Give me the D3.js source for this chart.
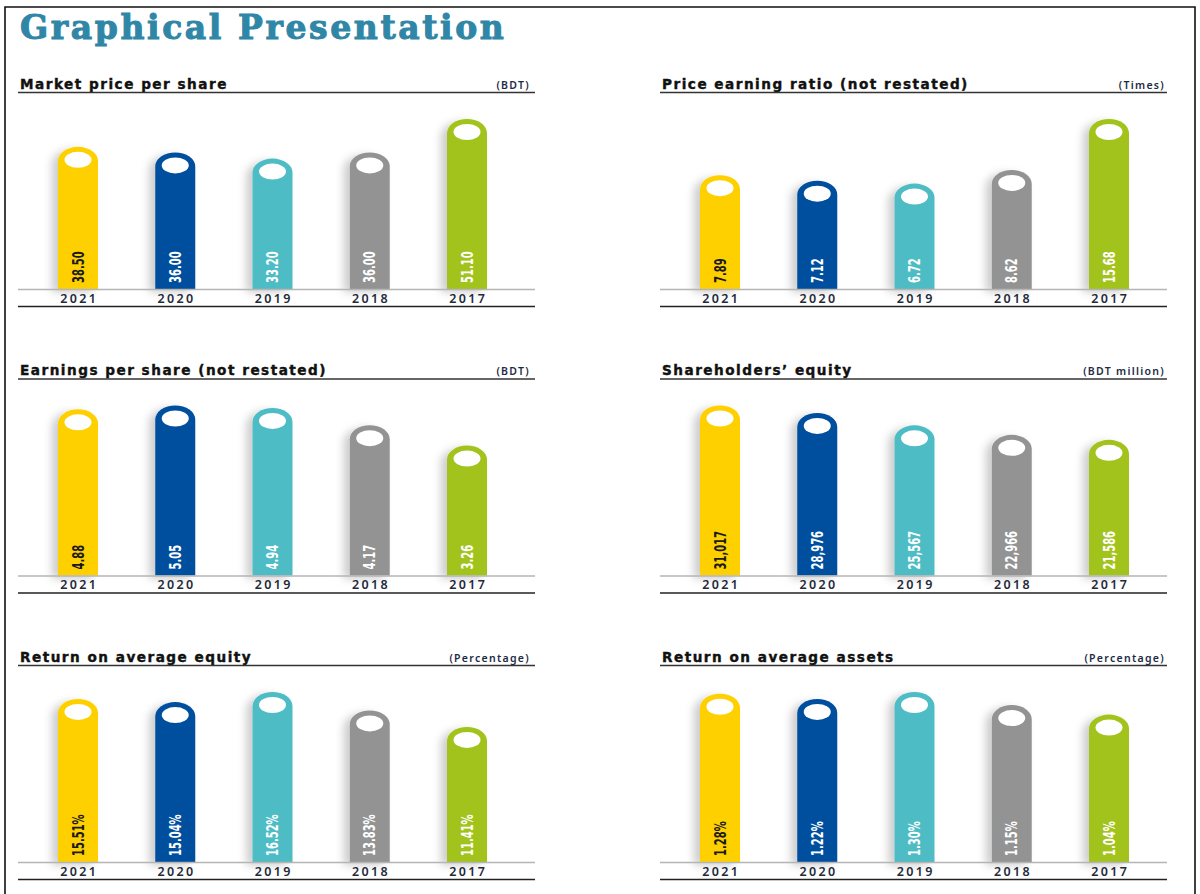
<!DOCTYPE html>
<html>
<head>
<meta charset="utf-8">
<script src="https://cdn.jsdelivr.net/npm/d3@7"></script>
<style>
  body { margin: 0; background: #fff; }
  svg { display: block; }
</style>
</head>
<body>
<svg id="chart" width="1200" height="894"></svg>
<script>
const years = ['2021', '2020', '2019', '2018', '2017']
const barColors = ['#ffd000', '#004f9e', '#4dbcc5', '#939393', '#a2c31a']
const labelColors = ['#1a1a1a', '#fff', '#fff', '#fff', '#fff']

const marketPrice = [38.50, 36.00, 33.20, 36.00, 51.10]
const peRatio = [7.89, 7.12, 6.72, 8.62, 15.68]
const eps = [4.88, 5.05, 4.94, 4.17, 3.26]
const equity = [31017, 28976, 25567, 22966, 21586]
const roae = [15.51, 15.04, 16.52, 13.83, 11.41]
const roaa = [1.28, 1.22, 1.30, 1.15, 1.04]

const titles = [
  'Market price per share', 'Price earning ratio (not restated)',
  'Earnings per share (not restated)', 'Shareholders\u2019 equity',
  'Return on average equity', 'Return on average assets'
]
const units = ['(BDT)', '(Times)', '(BDT)', '(BDT million)', '(Percentage)', '(Percentage)']

const fix2 = d3.format('.2f')
const pct = v => fix2(v) + '%'
const panels = [
  {values: marketPrice, fmt: fix2},
  {values: peRatio, fmt: fix2},
  {values: eps, fmt: fix2},
  {values: equity, fmt: d3.format(',')},
  {values: roae, fmt: pct},
  {values: roaa, fmt: pct}
].map((p, i) => ({...p, title: titles[i], unit: units[i], col: i % 2, row: Math.floor(i / 2)}))

const svg = d3.select('#chart')
const defs = svg.append('defs')
const shadow = defs.append('filter').attr('id', 'shadow')
  .attr('x', '-50%').attr('y', '-20%').attr('width', '200%').attr('height', '140%')
shadow.append('feDropShadow')
  .attr('dx', -6).attr('dy', 3).attr('stdDeviation', 4)
  .attr('flood-color', '#000').attr('flood-opacity', 0.2)

// page frame
svg.append('path')
  .attr('d', 'M5,900 L5,7 L1195,7 L1195,900')
  .attr('fill', 'none').attr('stroke', '#111').attr('stroke-width', 1.6)

svg.append('text')
  .attr('x', 20).attr('y', 39)
  .attr('font-family', 'DejaVu Serif').attr('font-weight', 'bold')
  .attr('font-size', 33).attr('fill', '#2f86a6')
  .attr('letter-spacing', 2.6)
  .attr('stroke', '#2f86a6').attr('stroke-width', 1)
  .text('Graphical Presentation')

const colX = [0, 642]
const lineEnd = [535, 525]
const unitEnd = [530, 523]
const rowY = [0, 286.5, 573]
const barW = 40

const x = d3.scalePoint().domain(years).range([78, 467])

panels.forEach(p => {
  const g = svg.append('g')
    .attr('transform', `translate(${colX[p.col]},${rowY[p.row]})`)

  const axisY = 289
  const right = lineEnd[p.col]
  const y = d3.scaleLinear()
    .domain([0, d3.max(p.values)])
    .range([axisY - 57, axisY - 170])

  g.append('text')
    .attr('x', 20).attr('y', 88.5)
    .attr('font-family', 'DejaVu Sans').attr('font-weight', 'bold')
    .attr('font-size', 13.6).attr('fill', '#111')
    .attr('stroke', '#111').attr('stroke-width', 0.4)
    .attr('letter-spacing', 1.5)
    .text(p.title)

  g.append('text')
    .attr('x', unitEnd[p.col]).attr('y', 88.5)
    .attr('text-anchor', 'end')
    .attr('font-family', 'Noto Sans').attr('font-weight', 600)
    .attr('font-size', 10.5).attr('fill', '#1d2b44')
    .attr('letter-spacing', 1.3)
    .text(p.unit)

  g.append('line')
    .attr('x1', 18).attr('x2', right).attr('y1', 92.5).attr('y2', 92.5)
    .attr('stroke', '#333').attr('stroke-width', 1.5)

  const bars = g.selectAll('g.bar')
    .data(p.values)
    .enter().append('g')
    .attr('class', 'bar')
    .attr('transform', (d, i) => `translate(${x(years[i])},0)`)

  bars.append('path')
    .attr('fill', (d, i) => barColors[i])
    .attr('filter', 'url(#shadow)')
    .attr('d', d => {
      const top = y(d)
      const r = barW / 2
      return `M${-r},${axisY} L${-r},${top + 14} A${r},14 0 0 1 ${r},${top + 14} L${r},${axisY} Z`
    })

  bars.append('ellipse')
    .attr('cx', 0).attr('cy', d => y(d) + 13)
    .attr('rx', 13.5).attr('ry', 8)
    .attr('fill', '#fff')

  bars.append('text')
    .attr('transform', `translate(5.5,${axisY - 6}) rotate(-90) scale(0.74,1)`)
    .attr('font-family', 'DejaVu Sans Condensed').attr('font-weight', 'bold')
    .attr('font-size', 15)
    .attr('fill', (d, i) => labelColors[i])
    .text(d => p.fmt(d))

  g.append('line')
    .attr('x1', 18).attr('x2', right).attr('y1', axisY + 0.5).attr('y2', axisY + 0.5)
    .attr('stroke', '#b5b5b5').attr('stroke-width', 1.5)

  g.selectAll('text.year')
    .data(years)
    .enter().append('text')
    .attr('class', 'year')
    .attr('x', d => x(d) + 1.2).attr('y', axisY + 13.5)
    .attr('text-anchor', 'middle')
    .attr('font-family', 'Noto Sans').attr('font-weight', 600)
    .attr('font-size', 12.5).attr('fill', '#1f2a3a')
    .attr('letter-spacing', 2.3)
    .text(d => d)

  g.append('line')
    .attr('x1', 18).attr('x2', right).attr('y1', axisY + 17.5).attr('y2', axisY + 17.5)
    .attr('stroke', '#222').attr('stroke-width', 1.5)
})
</script>
</body>
</html>
